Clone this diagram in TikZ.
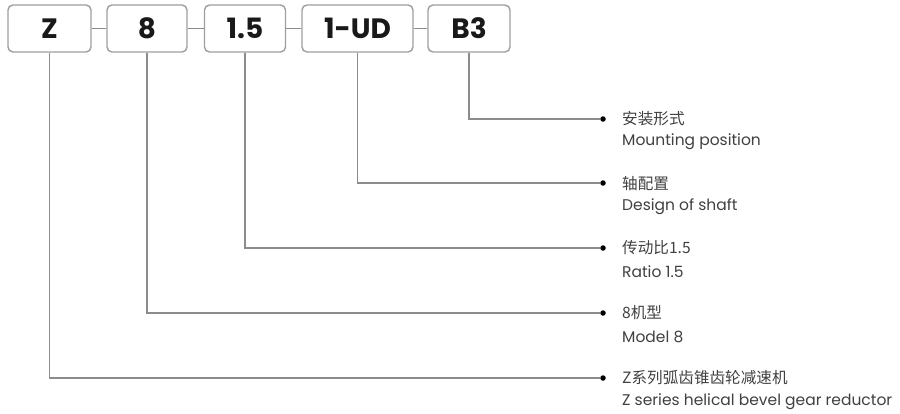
\documentclass[tikz,border=0pt]{standalone}
\usepackage{fontspec}
\setmainfont{Poppins}
\newfontfamily\cjk{Noto Sans CJK SC}
\begin{document}
\begin{tikzpicture}[x=1pt,y=-1pt,
  codebox/.style={draw=black!38,line width=1.4pt,rounded corners=5pt,inner sep=0pt,
     font=\fontsize{28}{32}\selectfont\bfseries,text=black!90},
  link/.style={draw=black!45,line width=1.3pt},
  dotmark/.style={circle,fill=black,inner sep=0pt,minimum size=5.5pt},
  cn/.style={anchor=west,inner sep=0pt,font=\cjk\fontsize{15.6}{18}\selectfont,text=black!75},
  en/.style={anchor=west,inner sep=0pt,font=\fontsize{15.5}{18}\selectfont,text=black!75}]
\useasboundingbox (0,0) rectangle (900,413);
\node[codebox,minimum width=83pt,minimum height=47pt] (z) at (49.5,28.5) {Z};
\node[codebox,minimum width=80pt,minimum height=47pt] (m) at (147,28.5) {8};
\node[codebox,minimum width=81pt,minimum height=47pt] (r) at (245,28.5) {1.5};
\node[codebox,minimum width=111pt,minimum height=47pt] (s) at (357.5,28.5) {1-UD};
\node[codebox,minimum width=82pt,minimum height=47pt] (b) at (469,28.5) {B3};
\draw[link] (z) -- (m);
\draw[link] (m) -- (r);
\draw[link] (r) -- (s);
\draw[link] (s) -- (b);
\node[dotmark] (d1) at (603,119) {};
\node[dotmark] (d2) at (603,183) {};
\node[dotmark] (d3) at (603,248) {};
\node[dotmark] (d4) at (603,313) {};
\node[dotmark] (d5) at (603,378) {};
\draw[link] (b.south) |- (d1);
\draw[link] (s.south) |- (d2);
\draw[link] (r.south) |- (d3);
\draw[link] (m.south) |- (d4);
\draw[link] (z.south) |- (d5);
\node[cn] (c1) at (622,119) {安装形式};
\node[en] (e1) at (622,142) {Mounting position};
\node[cn] (c2) at (622,184) {轴配置};
\node[en] (e2) at (622,207) {Design of shaft};
\node[cn] (c3) at (622,248) {传动比1.5};
\node[en] (e3) at (622,272) {Ratio 1.5};
\node[cn] (c4) at (622,313) {8机型};
\node[en] (e4) at (622,337) {Model 8};
\node[cn] (c5) at (622,378) {Z系列弧齿锥齿轮减速机};
\node[en] (e5) at (622,402) {Z series helical bevel gear reductor};
\end{tikzpicture}
\end{document}
